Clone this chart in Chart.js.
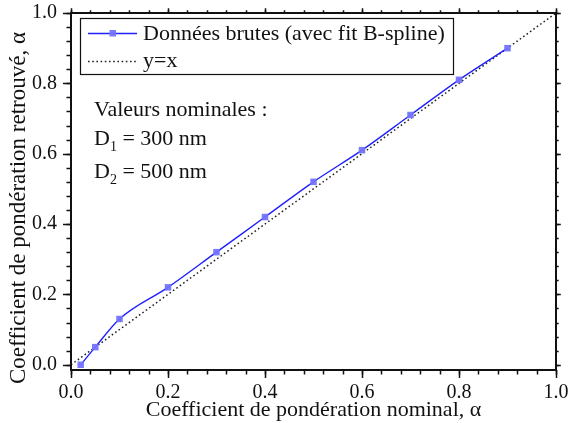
<!DOCTYPE html>
<html>
<head>
<meta charset="utf-8">
<script src="https://cdn.jsdelivr.net/npm/chart.js@4/dist/chart.umd.min.js"></script>
<style>
  html, body { margin: 0; padding: 0; background: #fff; }
  #wrap { width: 568px; height: 423px; }
</style>
</head>
<body>
<div id="wrap"><canvas id="c" width="568" height="423"></canvas></div>
<script>
// Nominal vs. retrieved weighting coefficient
const nominalAlpha   = [0.02, 0.05, 0.10, 0.20, 0.30, 0.40, 0.50, 0.60, 0.70, 0.80, 0.90];
const retrievedAlpha = [0.00, 0.05, 0.13, 0.22, 0.32, 0.42, 0.52, 0.61, 0.71, 0.81, 0.90];
// Reference line y = x
const identityX = [0, 1];
const identityY = [0, 1];
// Axis ticks
const xTickValues = [0.0, 0.2, 0.4, 0.6, 0.8, 1.0];
const yTickValues = [0.0, 0.2, 0.4, 0.6, 0.8, 1.0];
const minorStep = 0.04;
// Texts
const seriesLabels = ['Données brutes (avec fit B-spline)', 'y=x'];
const xTitle = 'Coefficient de pondération nominal, α';
const yTitle = 'Coefficient de pondération retrouvé, α';
const noteTitle = 'Valeurs nominales :';
const noteItems = [['D', '1', ' = 300 nm'], ['D', '2', ' = 500 nm']];

const SERIF = '"Liberation Serif", "Times New Roman", serif';
const INK = '#111';

const toPoints = (xs, ys) => xs.map((x, i) => ({ x, y: ys[i] }));

function minorValues(lo, hi, step) {
  const out = [];
  const n = Math.round((hi - lo) / step);
  for (let i = 0; i <= n; i++) out.push(+(lo + i * step).toFixed(4));
  return out;
}

// Frame, outward ticks on all four sides, axis titles, legend box and note
const decorations = {
  id: 'decorations',
  afterDraw(chart) {
    const { ctx, chartArea: a, scales } = chart;
    const xs = scales.x, ys = scales.y;
    ctx.save();
    ctx.strokeStyle = INK;
    ctx.lineWidth = 2;
    ctx.strokeRect(a.left, a.top, a.right - a.left, a.bottom - a.top);

    ctx.lineWidth = 1.5;
    const majorLen = 8, minorLen = 4.5;
    const drawX = (vals, len) => vals.forEach(v => {
      const px = Math.round(xs.getPixelForValue(v)) + 0.5;
      ctx.beginPath();
      ctx.moveTo(px, a.bottom); ctx.lineTo(px, a.bottom + len);
      ctx.moveTo(px, a.top); ctx.lineTo(px, a.top - len * 0.6);
      ctx.stroke();
    });
    const drawY = (vals, len) => vals.forEach(v => {
      const py = Math.round(ys.getPixelForValue(v)) + 0.5;
      ctx.beginPath();
      ctx.moveTo(a.left, py); ctx.lineTo(a.left - len, py);
      ctx.moveTo(a.right, py); ctx.lineTo(a.right + len * 0.6, py);
      ctx.stroke();
    });
    drawX(minorValues(0, 1, minorStep), minorLen);
    drawX(xTickValues, majorLen);
    drawY(minorValues(0, 1, minorStep), minorLen);
    drawY(yTickValues, majorLen);

    // axis titles
    ctx.fillStyle = INK;
    ctx.font = '22px ' + SERIF;
    ctx.textAlign = 'center';
    ctx.textBaseline = 'alphabetic';
    ctx.fillText(xTitle, (a.left + a.right) / 2, 416);
    ctx.save();
    ctx.translate(25, 208);
    ctx.rotate(-Math.PI / 2);
    ctx.font = '23px ' + SERIF;
    ctx.fillText(yTitle, 0, 0);
    ctx.restore();

    // legend
    const ds = chart.data.datasets;
    ctx.lineWidth = 1.2;
    ctx.strokeStyle = INK;
    ctx.strokeRect(80.5, 18.5, 373, 56);
    const rows = [33, 61];
    const baselines = [40, 67];
    rows.forEach((ry, i) => {
      const d = ds[i];
      ctx.save();
      ctx.strokeStyle = d.borderColor;
      ctx.lineWidth = d.borderWidth;
      ctx.setLineDash(d.borderDash || []);
      ctx.beginPath();
      ctx.moveTo(88, ry + 0.5); ctx.lineTo(137, ry + 0.5);
      ctx.stroke();
      ctx.restore();
      if (d.pointRadius > 0) {
        ctx.fillStyle = d.pointBackgroundColor;
        ctx.fillRect(109.5, ry - 3, 6.5, 6.5);
      }
      ctx.fillStyle = INK;
      ctx.font = '22px ' + SERIF;
      ctx.textAlign = 'left';
      ctx.textBaseline = 'alphabetic';
      ctx.fillText(d.label, 143, baselines[i]);
    });

    // note
    ctx.textAlign = 'left';
    ctx.textBaseline = 'alphabetic';
    ctx.font = '22px ' + SERIF;
    ctx.fillText(noteTitle, 94, 116);
    noteItems.forEach((it, i) => {
      const by = 144.5 + i * 33;
      let x = 94;
      ctx.font = '22px ' + SERIF;
      ctx.fillText(it[0], x, by);
      x += ctx.measureText(it[0]).width;
      ctx.font = '14px ' + SERIF;
      ctx.fillText(it[1], x, by + 6.5);
      x += ctx.measureText(it[1]).width;
      ctx.font = '22px ' + SERIF;
      ctx.fillText(it[2], x, by);
    });
    ctx.restore();
  }
};

new Chart(document.getElementById('c'), {
  type: 'line',
  data: {
    datasets: [
      {
        label: seriesLabels[0],
        data: toPoints(nominalAlpha, retrievedAlpha),
        borderColor: '#2020ff',
        borderWidth: 1.4,
        pointStyle: 'rect',
        pointRadius: 4.6,
        pointBackgroundColor: 'rgba(115,115,255,0.95)',
        pointBorderWidth: 0,
        cubicInterpolationMode: 'monotone',
        order: 1
      },
      {
        label: seriesLabels[1],
        data: toPoints(identityX, identityY),
        borderColor: '#222',
        borderWidth: 1.5,
        borderDash: [1.6, 2.6],
        pointRadius: 0,
        order: 2
      }
    ]
  },
  options: {
    responsive: false,
    devicePixelRatio: 1,
    animation: false,
    layout: { padding: { left: 0, right: 12, top: 13, bottom: 0 } },
    plugins: { legend: { display: false }, tooltip: { enabled: false } },
    scales: {
      x: {
        type: 'linear',
        min: 0, max: 1,
        grid: { display: false, drawTicks: false },
        border: { display: false },
        afterBuildTicks: s => { s.ticks = xTickValues.map(v => ({ value: v })); },
        afterFit: s => { s.height = 53; s.paddingLeft = 0; s.paddingRight = 0; },
        ticks: {
          color: INK,
          font: { family: SERIF, size: 20 },
          padding: 11,
          maxRotation: 0,
          callback: v => v.toFixed(1)
        }
      },
      y: {
        type: 'linear',
        min: -0.015, max: 1,
        grid: { display: false, drawTicks: false },
        border: { display: false },
        afterBuildTicks: s => { s.ticks = yTickValues.map(v => ({ value: v })); },
        afterFit: s => { s.width = 71; s.paddingTop = 0; s.paddingBottom = 0; },
        ticks: {
          color: INK,
          font: { family: SERIF, size: 20 },
          padding: 14,
          callback: v => v.toFixed(1)
        }
      }
    }
  },
  plugins: [decorations]
});
</script>
</body>
</html>
